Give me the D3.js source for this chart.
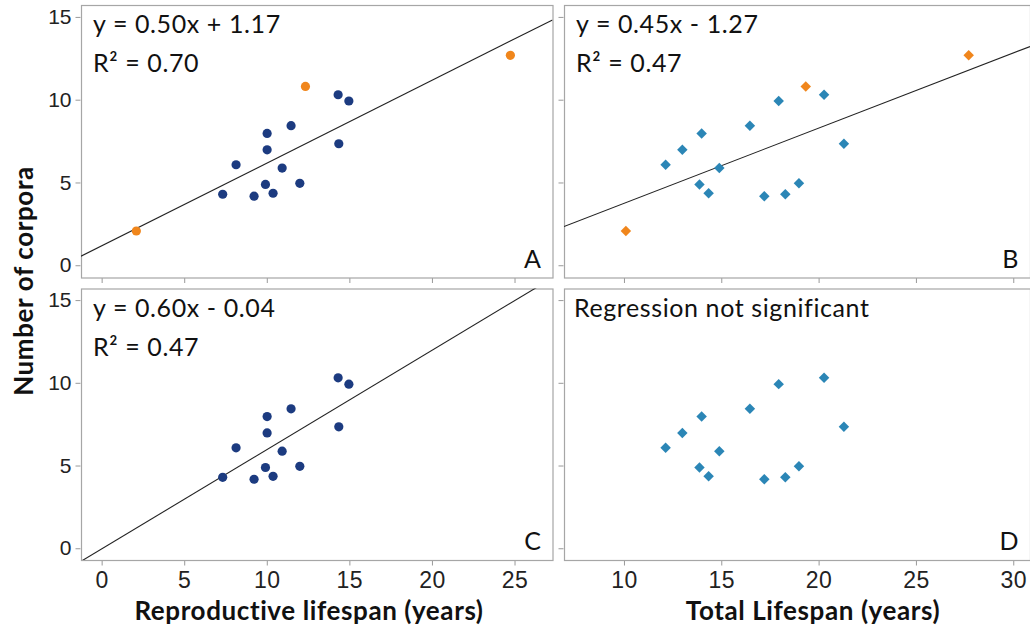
<!DOCTYPE html>
<meta charset="utf-8">
<style>
body {
  margin: 0;
  background: white;
  font-family: Lato, sans-serif;
}
.axis .domain {
  display: none;
}
.axis line {
  stroke: #999;
}
.axis text {
  fill: #222;
}
.ylab text {
  font-size: 21px;
}
.xlab text {
  font-size: 23px;
  letter-spacing: 0.5px;
}
.note {
  font-size: 25px;
  letter-spacing: 0.6px;
  fill: #111;
}
.title {
  font-size: 26px;
  font-weight: bold;
  letter-spacing: 0.6px;
  fill: #111;
}
</style>
<body>
<svg width="1030" height="629"></svg>
<script src="https://cdn.jsdelivr.net/npm/d3@7"></script>
<script>
// individuals used for the regressions (blue)
var repLifespan   = [7.33, 8.14, 9.23, 9.92, 10.02, 10.02, 10.38, 10.93, 11.47, 12.0, 14.32, 14.97, 14.36];
var totalLifespan = [18.29, 12.14, 17.21, 13.88, 13.99, 13.0, 14.35, 14.9, 16.47, 18.99, 20.28, 17.95, 21.3];
var corpora       = [4.29, 6.07, 4.17, 4.88, 7.96, 6.97, 4.35, 5.87, 8.43, 4.95, 10.3, 9.92, 7.34];

// extra individuals shown in orange (top panels only)
var repLifespanExtra   = [2.1, 12.34, 24.75];
var totalLifespanExtra = [10.1, 19.34, 27.71];
var corporaExtra       = [2.07, 10.8, 12.68];

var yTicks = [0, 5, 10, 15];
var xTicksRep = [0, 5, 10, 15, 20, 25];
var xTicksTot = [10, 15, 20, 25, 30];

// fitted lines [slope, intercept] as drawn, and their labels
var fitA = [0.50, 1.17], fitB = [0.454, -0.80], fitC = [0.60, -0.04];
var labelsA = ["y = 0.50x + 1.17", "R² = 0.70"];
var labelsB = ["y = 0.45x - 1.27", "R² = 0.47"];
var labelsC = ["y = 0.60x - 0.04", "R² = 0.47"];
var labelsD = ["Regression not significant"];

var svg = d3.select("svg");

var xRep = d3.scaleLinear().domain([-1.25, 27.3]).range([81, 552.5]);
var xTot = d3.scaleLinear().domain([6.92, 30.86]).range([564, 1030]);
var yTop = d3.scaleLinear().domain([-0.74, 15.72]).range([277.5, 5]);
var yBot = d3.scaleLinear().domain([-0.71, 15.7]).range([560, 288.5]);

var panels = [
  {id: "A", x: xRep, y: yTop, xs: repLifespan, xe: repLifespanExtra, shape: "circle", fit: fitA, labels: labelsA, yLab: true, xLab: false, xt: xTicksRep},
  {id: "B", x: xTot, y: yTop, xs: totalLifespan, xe: totalLifespanExtra, shape: "diamond", fit: fitB, labels: labelsB, yLab: false, xLab: false, xt: xTicksTot},
  {id: "C", x: xRep, y: yBot, xs: repLifespan, xe: null, shape: "circle", fit: fitC, labels: labelsC, yLab: true, xLab: true, xt: xTicksRep},
  {id: "D", x: xTot, y: yBot, xs: totalLifespan, xe: null, shape: "diamond", fit: null, labels: labelsD, yLab: false, xLab: true, xt: xTicksTot}
];

var blue = "#1c3b80", teal = "#2b86b6", orange = "#f0861c";
var diamond = d3.symbol().type(d3.symbolDiamond2).size(70);

panels.forEach(function(p) {
  var x0 = p.x.range()[0], x1 = p.x.range()[1];
  var y0 = p.y.range()[1], y1 = p.y.range()[0];
  var g = svg.append("g");

  g.append("clipPath").attr("id", "clip" + p.id)
    .append("rect")
      .attr("x", x0).attr("y", y0)
      .attr("width", x1 - x0).attr("height", y1 - y0);

  // axes
  g.append("g")
      .attr("class", "axis ylab")
      .attr("transform", "translate(" + (x0 - 0.5) + ",0)")
      .call(d3.axisLeft(p.y).tickValues(yTicks).tickSize(5).tickPadding(4)
        .tickFormat(p.yLab ? d3.format("d") : ""));

  g.append("g")
      .attr("class", "axis xlab")
      .attr("transform", "translate(0," + (y1 + 0.5) + ")")
      .call(d3.axisBottom(p.x).tickValues(p.xt).tickSize(5).tickPadding(6)
        .tickFormat(p.xLab ? d3.format("d") : ""));

  g.append("rect")
      .attr("x", x0 + 0.5).attr("y", y0 + 0.5)
      .attr("width", x1 - x0).attr("height", y1 - y0)
      .attr("fill", "none")
      .attr("stroke", "#a6a6a6")
      .attr("stroke-width", 1.2);

  // regression line
  if (p.fit) {
    var d0 = p.x.domain();
    g.append("line")
        .attr("clip-path", "url(#clip" + p.id + ")")
        .attr("x1", p.x(d0[0])).attr("y1", p.y(p.fit[0] * d0[0] + p.fit[1]))
        .attr("x2", p.x(d0[1])).attr("y2", p.y(p.fit[0] * d0[1] + p.fit[1]))
        .attr("stroke", "#222")
        .attr("stroke-width", 1.1);
  }

  var pts = p.xs.map(function(v, i) { return {x: v, y: corpora[i], c: p.shape == "circle" ? blue : teal}; });
  if (p.xe) {
    pts = pts.concat(p.xe.map(function(v, i) { return {x: v, y: corporaExtra[i], c: orange}; }));
  }

  if (p.shape == "circle") {
    g.selectAll(".pt").data(pts).enter().append("circle")
        .attr("cx", function(d) { return p.x(d.x); })
        .attr("cy", function(d) { return p.y(d.y); })
        .attr("r", 4.6)
        .attr("fill", function(d) { return d.c; });
  } else {
    g.selectAll(".pt").data(pts).enter().append("path")
        .attr("d", diamond)
        .attr("transform", function(d) { return "translate(" + p.x(d.x) + "," + p.y(d.y) + ")"; })
        .attr("fill", function(d) { return d.c; });
  }

  // equation text
  g.selectAll(".lab").data(p.labels).enter().append("text")
      .attr("class", "note")
      .attr("x", x0 + (p.id == "D" ? 10 : 12))
      .attr("y", function(d, i) { return y0 + 28 + i * 39; })
      .text(function(d) { return d; });

  g.append("text")
      .attr("class", "note")
      .attr("x", Math.min(x1, 1030) - 11)
      .attr("y", y1 - 10)
      .attr("text-anchor", "end")
      .text(p.id);
});

// axis titles
svg.append("text")
    .attr("class", "title")
    .attr("transform", "translate(33,281) rotate(-90)")
    .attr("text-anchor", "middle")
    .text("Number of corpora");

svg.append("text")
    .attr("class", "title")
    .attr("x", 309).attr("y", 620)
    .attr("text-anchor", "middle")
    .text("Reproductive lifespan (years)");

svg.append("text")
    .attr("class", "title")
    .attr("x", 813).attr("y", 620)
    .attr("text-anchor", "middle")
    .text("Total Lifespan (years)");
</script>
</body>
